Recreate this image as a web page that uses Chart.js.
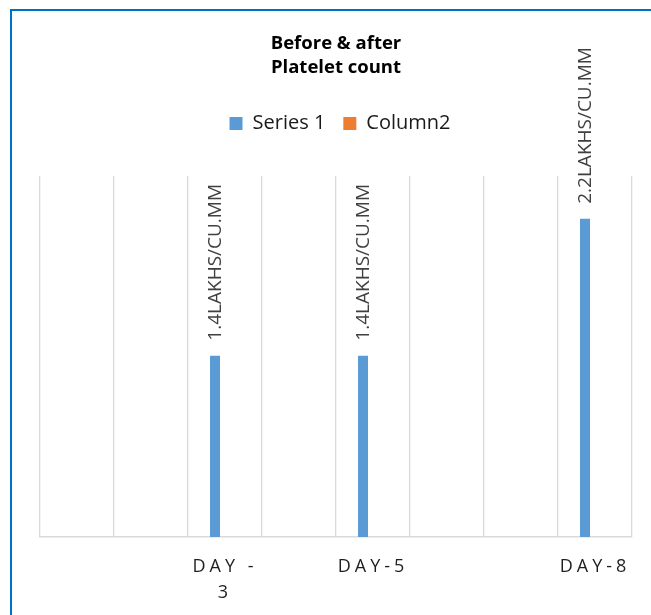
<!DOCTYPE html>
<html>
<head>
<meta charset="utf-8">
<script src="https://cdn.jsdelivr.net/npm/chart.js@4.4.0/dist/chart.umd.min.js"></script>
<style>
  html, body { margin: 0; padding: 0; background: #fff; overflow: hidden; }
  #wrap { width: 651px; height: 615px; position: relative; }
</style>
</head>
<body>
<div id="wrap"><canvas id="myChart"></canvas></div>
<script>
// chart data
const dayLabels = ['', '', ['DAY -', '3'], '', 'DAY-5', '', '', 'DAY-8'];
const series1 = [null, null, 1.4, null, 1.4, null, null, 2.2];
const column2 = [null, null, null, null, null, null, null, null];
const unitText = 'LAKHS/CU.MM';
const titleLines = ['Before & after', 'Platelet count'];

// white background + the blue frame of the chart object
const chartFrame = {
    id: 'chartFrame',
    beforeDraw(chart) {
        const { ctx, width, height } = chart;
        ctx.save();
        ctx.fillStyle = '#FFFFFF';
        ctx.fillRect(0, 0, width, height);
        ctx.strokeStyle = '#0070C0';
        ctx.lineWidth = 2;
        ctx.beginPath();
        ctx.moveTo(11, height);
        ctx.lineTo(11, 10);
        ctx.lineTo(width, 10);
        ctx.stroke();
        ctx.restore();
    }
};

// extra room between legend and plot area
const legendGap = {
    id: 'legendGap',
    beforeInit(chart) {
        const fit = chart.legend.fit;
        chart.legend.fit = function () {
            fit.call(this);
            this.height += 32.5;
        };
    },
    afterLayout(chart) {
        chart.legend.left += 4;
        chart.legend.right += 4;
    }
};

// rotated value labels above the bars
const valueLabels = {
    id: 'valueLabels',
    afterDatasetsDraw(chart) {
        const { ctx } = chart;
        const meta = chart.getDatasetMeta(0);
        ctx.save();
        ctx.font = '19px "Open Sans"';
        ctx.fillStyle = '#404040';
        ctx.textAlign = 'left';
        ctx.textBaseline = 'middle';
        meta.data.forEach((bar, i) => {
            const v = series1[i];
            if (v == null) return;
            ctx.save();
            ctx.translate(bar.x + 1, bar.y - 15);
            ctx.rotate(-Math.PI / 2);
            ctx.fillText(v.toFixed(1) + unitText, 0, 0);
            ctx.restore();
        });
        ctx.restore();
    }
};

// spaced-out category labels under the axis
const dayAxisLabels = {
    id: 'dayAxisLabels',
    afterDraw(chart) {
        const { ctx } = chart;
        const x = chart.scales.x;
        ctx.save();
        ctx.font = '18px "Open Sans"';
        ctx.fillStyle = '#1F1F1F';
        ctx.textAlign = 'center';
        ctx.textBaseline = 'alphabetic';
        ctx.letterSpacing = '4px';
        dayLabels.forEach((label, i) => {
            const lines = Array.isArray(label) ? label : [label];
            const px = x.getPixelForValue(i);
            lines.forEach((line, j) => ctx.fillText(line, px, x.top + 35 + j * 26));
        });
        ctx.restore();
    }
};

const ctx = document.getElementById('myChart').getContext('2d');

new Chart(ctx, {
    type: 'bar',
    data: {
        labels: dayLabels,
        datasets: [
            {
                label: 'Series 1',
                data: series1,
                backgroundColor: '#5B9BD5',
                categoryPercentage: 0.54,
                barPercentage: 0.5
            },
            {
                label: 'Column2',
                data: column2,
                backgroundColor: '#ED7D31',
                categoryPercentage: 0.54,
                barPercentage: 0.5
            }
        ]
    },
    options: {
        responsive: true,
        maintainAspectRatio: false,
        animation: false,
        layout: {
            padding: { left: 40, right: 19, top: 0, bottom: 0 }
        },
        scales: {
            x: {
                grid: { color: '#D9D9D9', lineWidth: 1.3, drawTicks: false, offset: true },
                border: { color: '#D9D9D9', width: 1.5 },
                ticks: { display: false },
                afterFit: (scale) => { scale.height = 78; }
            },
            y: {
                display: false,
                min: 0.34,
                max: 2.45
            }
        },
        plugins: {
            title: {
                display: true,
                text: titleLines,
                color: '#000000',
                font: { family: 'Open Sans', size: 18.5, weight: 'bold', lineHeight: 24 / 18.5 },
                padding: { top: 32, bottom: 15.5 }
            },
            legend: {
                labels: {
                    boxWidth: 13,
                    boxHeight: 13,
                    padding: 18,
                    color: '#1A1A1A',
                    font: { family: 'Open Sans', size: 20 }
                }
            },
            tooltip: { enabled: false }
        }
    },
    plugins: [chartFrame, legendGap, valueLabels, dayAxisLabels]
});
</script>
</body>
</html>
